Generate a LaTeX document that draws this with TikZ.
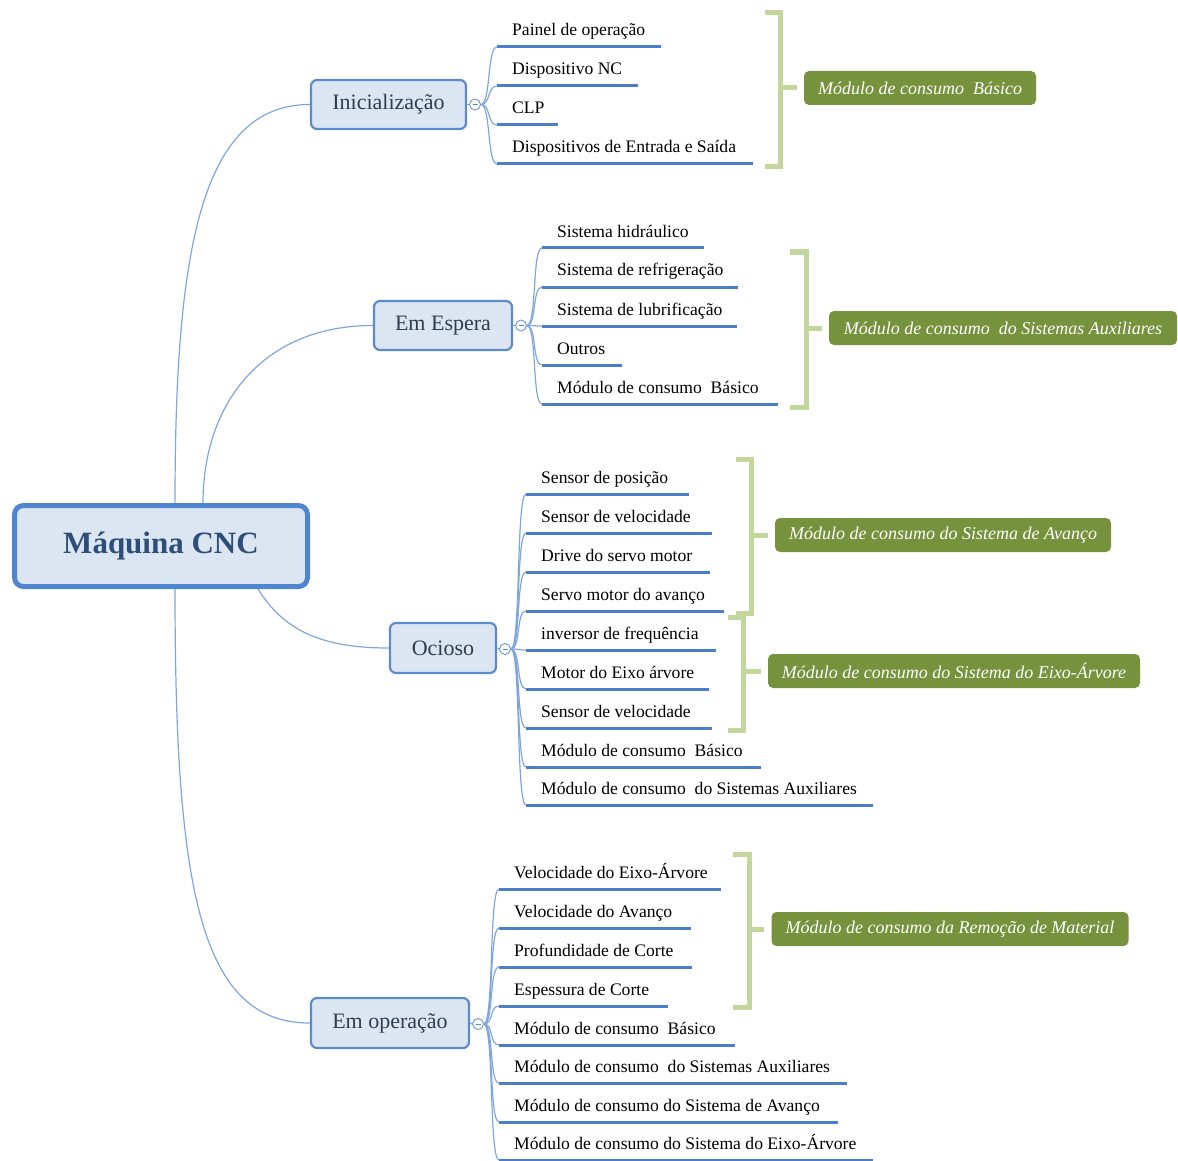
\documentclass[tikz,border=0pt]{standalone}
\usepackage{fontspec}
\setmainfont{Liberation Serif}
\usetikzlibrary{calc}
\definecolor{conncol}{HTML}{7FA6DC}
\definecolor{ulcol}{HTML}{4A7EC8}
\definecolor{boxfill}{HTML}{DCE6F2}
\definecolor{boxdraw}{HTML}{5B8BC9}
\definecolor{rootdraw}{HTML}{4F86CF}
\definecolor{roottext}{HTML}{2E4E7A}
\definecolor{brcol}{HTML}{C3D69B}
\definecolor{labfill}{HTML}{76923C}
\definecolor{maintext}{HTML}{2F3D4F}
\tikzset{
 conn/.style={draw=conncol, line width=1.2pt},
 uline/.style={draw=ulcol, line width=3pt},
 leaf/.style={font=\fontsize{17.6}{20}\selectfont, inner sep=0pt, text=black},
 topic/.style={draw=boxdraw, fill=boxfill, line width=2.2pt, rounded corners=6pt,
   font=\fontsize{22}{26}\selectfont, text=maintext, inner sep=0pt},
 rootbox/.style={draw=rootdraw, fill=boxfill, line width=5pt, rounded corners=9pt,
   font=\fontsize{31}{36}\selectfont\bfseries, text=roottext, inner sep=0pt,
   minimum width=293pt, minimum height=81pt},
 toggle/.style={circle, draw=boxdraw, fill=white, line width=0.8pt, minimum size=11pt, inner sep=0pt,
   path picture={\draw[boxdraw, line width=0.8pt] ([xshift=-2.5pt]path picture bounding box.center) -- ([xshift=2.5pt]path picture bounding box.center);}},
 bracket/.style={draw=brcol, line width=5pt},
 modlabel/.style={fill=labfill, text=white, rounded corners=5pt,
   font=\fontsize{18}{20}\selectfont\itshape, minimum height=34pt, inner sep=0pt},
}
\newcommand\mmleaf[6]{%
 \coordinate (#1s) at (#2,#3);
 \coordinate (#1e) at (#4,#3);
 \node[leaf, anchor=base west] (#1) at (#2+15,#3-11) {#5};
 \draw[uline] (#1s) -- (#1e);
 \draw[conn] (#6.east) .. controls +(10,0) and +(-10,0) .. (#1s);
}
\newcommand\mmbracket[8]{% name, xarm, xbar, ytop, ybot, ymid, label center x, width
 \draw[bracket] (#2,#4) -- (#3,#4) -- (#3,#5) -- (#2,#5);
 \node[modlabel, minimum width=#8pt] (#1) at (#7,#6) {\mmlabtext};
 \draw[bracket] (#3,#6) -- ([xshift=-7pt]#1.west);
}
\begin{document}
\begin{tikzpicture}[x=1pt,y=-1pt]
\useasboundingbox (0,0) rectangle (1178,1161);

% root
\node[rootbox] (root) at (161,546) {Máquina CNC};

% topics
\node[topic, minimum width=155pt, minimum height=49pt] (ini) at (388.5,104.5) {Inicialização};
\node[topic, minimum width=138pt, minimum height=49pt] (esp) at (443,325.5) {Em Espera};
\node[topic, minimum width=106pt, minimum height=50pt] (oci) at (443,648) {Ocioso};
\node[topic, minimum width=158pt, minimum height=50pt] (ope) at (390,1023) {Em operação};

% toggles
\node[toggle] (tini) at (475,104.5) {};
\node[toggle] (tesp) at (521,325.5) {};
\node[toggle] (toci) at (505,649) {};
\node[toggle] (tope) at (478,1024) {};
\draw[conn] (ini.east) -- (tini.west);
\draw[conn] (esp.east) -- (tesp.west);
\draw[conn] (oci.east) -- (toci.west);
\draw[conn] (ope.east) -- (tope.west);

% root connectors
\draw[conn] ([xshift=14pt]root.north) .. controls +(0,-250) and +(-110,0) .. (ini.west);
\draw[conn] ([xshift=42pt]root.north) .. controls +(0,-100) and +(-110,0) .. (esp.west);
\draw[conn] ([xshift=97pt]root.south) .. controls +(25,40) and +(-70,0) .. (oci.west);
\draw[conn] ([xshift=14pt]root.south) .. controls +(0,300) and +(-110,0) .. (ope.west);

% Inicialização leaves
\mmleaf{a1}{497}{47}{661}{Painel de operação}{tini}
\mmleaf{a2}{497}{86}{638}{Dispositivo NC}{tini}
\mmleaf{a3}{497}{125}{558}{CLP}{tini}
\mmleaf{a4}{497}{164}{753}{Dispositivos de Entrada e Saída}{tini}

% Em Espera leaves
\mmleaf{b1}{542}{248}{704}{Sistema hidráulico}{tesp}
\mmleaf{b2}{542}{287}{738}{Sistema de refrigeração}{tesp}
\mmleaf{b3}{542}{326}{737}{Sistema de lubrificação}{tesp}
\mmleaf{b4}{542}{365}{622}{Outros}{tesp}
\mmleaf{b5}{542}{404}{778}{Módulo de consumo\ \ Básico}{tesp}

% Ocioso leaves
\mmleaf{c1}{526}{494}{689}{Sensor de posição}{toci}
\mmleaf{c2}{526}{533}{712}{Sensor de velocidade}{toci}
\mmleaf{c3}{526}{572}{710}{Drive do servo motor}{toci}
\mmleaf{c4}{526}{611}{724}{Servo motor do avanço}{toci}
\mmleaf{c5}{526}{650}{716}{inversor de frequência}{toci}
\mmleaf{c6}{526}{689}{709}{Motor do Eixo árvore}{toci}
\mmleaf{c7}{526}{728}{712}{Sensor de velocidade}{toci}
\mmleaf{c8}{526}{767}{761}{Módulo de consumo\ \ Básico}{toci}
\mmleaf{c9}{526}{805}{873}{Módulo de consumo\ \ do Sistemas Auxiliares}{toci}

% Em operação leaves
\mmleaf{d1}{499}{889}{721}{Velocidade do Eixo-Árvore}{tope}
\mmleaf{d2}{499}{928}{691}{Velocidade do Avanço}{tope}
\mmleaf{d3}{499}{967}{692}{Profundidade de Corte}{tope}
\mmleaf{d4}{499}{1006}{668}{Espessura de Corte}{tope}
\mmleaf{d5}{499}{1045}{735}{Módulo de consumo\ \ Básico}{tope}
\mmleaf{d6}{499}{1083}{847}{Módulo de consumo\ \ do Sistemas Auxiliares}{tope}
\mmleaf{d7}{499}{1122}{838}{Módulo de consumo do Sistema de Avanço}{tope}
\mmleaf{d8}{499}{1160}{873}{Módulo de consumo do Sistema do Eixo-Árvore}{tope}

% brackets and module labels
\def\mmlabtext{Módulo de consumo\ \ Básico}
\mmbracket{m1}{765}{780}{13}{167}{88}{920}{232}
\def\mmlabtext{Módulo de consumo\ \ do Sistemas Auxiliares}
\mmbracket{m2}{790}{806}{252}{407}{328}{1003}{348}
\def\mmlabtext{Módulo de consumo do Sistema de Avanço}
\mmbracket{m3}{736}{751}{459}{613}{535}{943}{336}
\def\mmlabtext{Módulo de consumo do Sistema do Eixo-Árvore}
\mmbracket{m4}{728}{743}{617}{730}{671}{954}{372}
\def\mmlabtext{Módulo de consumo da Remoção de Material}
\mmbracket{m5}{733}{749}{854}{1007}{929}{950}{357}
\end{tikzpicture}
\end{document}
